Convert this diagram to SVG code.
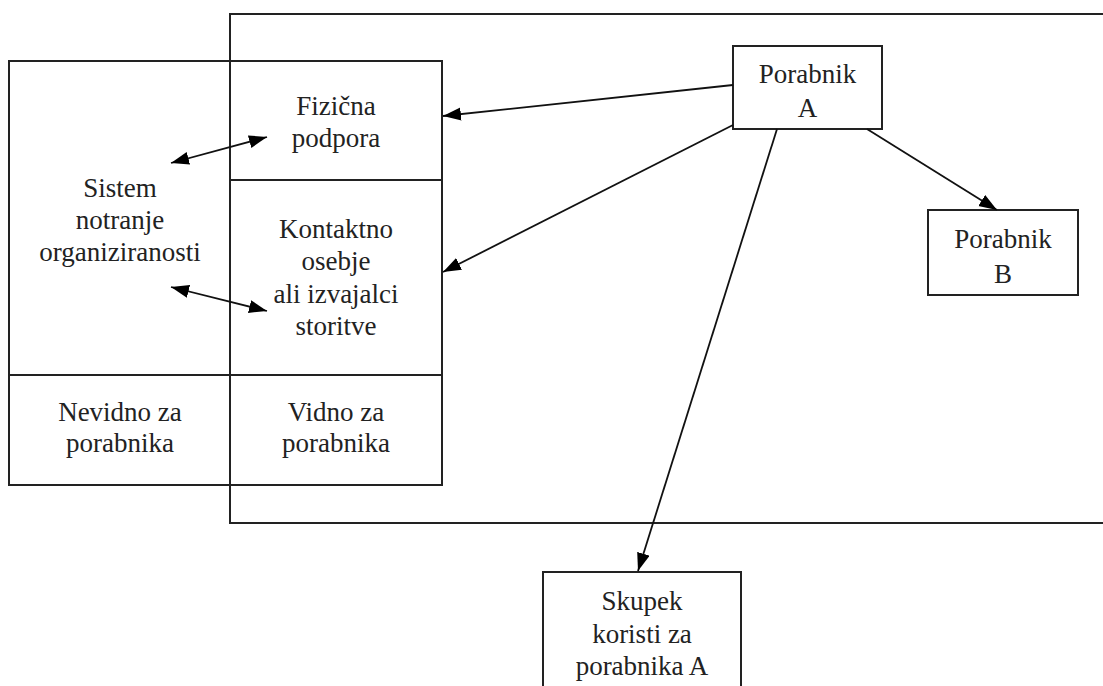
<svg xmlns="http://www.w3.org/2000/svg" width="1103" height="686" viewBox="0 0 1103 686">
  <style>
    .box { fill: none; stroke: #222; stroke-width: 2; }
    .ln { fill: none; stroke: #111; stroke-width: 1.8; }
    .lbl { font-family: "Liberation Serif", "Times New Roman", Times, "DejaVu Serif", serif; font-size: 27px; fill: #222; text-anchor: middle; }
  </style>
  <defs>
    <marker id="ah" markerUnits="userSpaceOnUse" markerWidth="20" markerHeight="14" refX="18" refY="6.5" orient="auto-start-reverse">
      <path d="M0,0 L18,6.5 L0,13 z" fill="#000"/>
    </marker>
  </defs>
  <rect width="1103" height="686" fill="#fff"/>

  <!-- customer-facing frame, open on the right -->
  <g id="frame">
    <rect class="box" x="230" y="14" width="890" height="509"/>
  </g>

  <!-- service organisation grid -->
  <g id="grid">
    <rect class="box" x="9" y="61" width="433" height="424"/>
    <line class="box" x1="230" y1="180" x2="442" y2="180"/>
    <line class="box" x1="9" y1="375" x2="442" y2="375"/>
  </g>

  <g id="sistem">
    <text class="lbl"><tspan x="120" y="197">Sistem</tspan><tspan x="120" y="229">notranje</tspan><tspan x="120" y="261">organiziranosti</tspan></text>
  </g>
  <g id="fizicna">
    <text class="lbl"><tspan x="336" y="115">Fizična</tspan><tspan x="336" y="147">podpora</tspan></text>
  </g>
  <g id="kontaktno">
    <text class="lbl"><tspan x="336" y="238">Kontaktno</tspan><tspan x="336" y="270">osebje</tspan><tspan x="336" y="303">ali izvajalci</tspan><tspan x="336" y="335">storitve</tspan></text>
  </g>
  <g id="nevidno">
    <text class="lbl"><tspan x="120" y="421">Nevidno za</tspan><tspan x="120" y="452">porabnika</tspan></text>
  </g>
  <g id="vidno">
    <text class="lbl"><tspan x="336" y="421">Vidno za</tspan><tspan x="336" y="452">porabnika</tspan></text>
  </g>

  <g id="porabnikA">
    <rect class="box" x="733" y="46" width="149" height="83"/>
    <text class="lbl"><tspan x="807.5" y="83">Porabnik</tspan><tspan x="807.5" y="117">A</tspan></text>
  </g>
  <g id="porabnikB">
    <rect class="box" x="928" y="210" width="150" height="85"/>
    <text class="lbl"><tspan x="1003" y="248">Porabnik</tspan><tspan x="1003" y="283">B</tspan></text>
  </g>
  <g id="skupek">
    <rect class="box" x="543" y="572" width="198" height="130"/>
    <text class="lbl"><tspan x="642" y="610">Skupek</tspan><tspan x="642" y="643">koristi za</tspan><tspan x="642" y="675">porabnika A</tspan></text>
  </g>

  <g id="connectors">
    <line class="ln" x1="733" y1="85" x2="443" y2="116" marker-end="url(#ah)"/>
    <line class="ln" x1="733" y1="125" x2="443" y2="272" marker-end="url(#ah)"/>
    <line class="ln" x1="867" y1="129" x2="997" y2="210" marker-end="url(#ah)"/>
    <line class="ln" x1="777" y1="129" x2="638" y2="571" marker-end="url(#ah)"/>
    <line class="ln" x1="171" y1="163" x2="267" y2="137" marker-start="url(#ah)" marker-end="url(#ah)"/>
    <line class="ln" x1="171" y1="287" x2="267" y2="311" marker-start="url(#ah)" marker-end="url(#ah)"/>
  </g>
</svg>
